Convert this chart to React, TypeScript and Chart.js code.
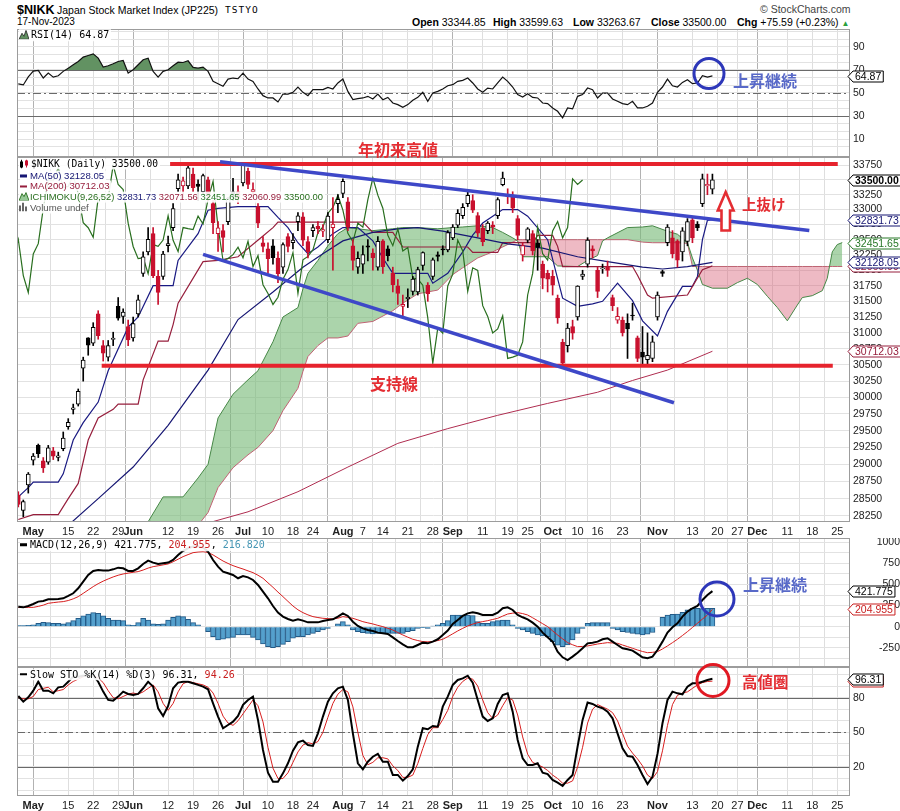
import React, { useEffect, useRef } from 'react';
import { Chart, registerables } from 'chart.js';

Chart.register(...registerables);

const SANS = '"Liberation Sans", Arial, Helvetica, sans-serif';
const MONO = '"DejaVu Sans Mono", "Liberation Mono", monospace';
const CJK = '"Noto Sans CJK JP", "Noto Sans CJK SC", sans-serif';

// x = trading-day index, 0 = 1-May-2023. First candle (26-Apr) is index -3.
const FIRST_INDEX = -3;
const X_MIN = -3.26;
const X_MAX = 163.55;
const ICHI_LAG = 26;
const PREV_CLOSE = 28620;

const tickIdx = [0, 7, 12, 17, 20, 27, 32, 37, 42, 47, 52, 56, 62, 66, 70, 75, 80, 84, 90, 95, 99, 104, 109, 113, 118, 125, 132, 137, 141, 145, 151, 156, 161];
const tickLabels = ['May', '15', '22', '29', 'Jun', '12', '19', '26', 'Jul', '10', '18', '24', 'Aug', '7', '14', '21', '28', 'Sep', '11', '19', '25', 'Oct', '10', '16', '23', 'Nov', '13', '20', '27', 'Dec', '11', '18', '25'];
const monthNames = ['May', 'Jun', 'Jul', 'Aug', 'Sep', 'Oct', 'Nov', 'Dec'];

const priceTicks = [28250, 28500, 28750, 29000, 29250, 29500, 29750, 30000, 30250, 30500, 30750, 31000, 31250, 31500, 31750, 32000, 32250, 32500, 32750, 33000, 33250, 33500, 33750];
const rsiGrid = [3.33, 10, 16.67, 23.33, 30, 36.67, 43.33, 50, 56.67, 63.33, 70, 76.67, 83.33, 90, 96.67, 103.33];
const rsiLabels = [10, 30, 50, 70, 90];
const macdGrid = [-375, -250, -125, 0, 125, 250, 375, 500, 625, 750, 875, 1000];
const macdLabels = [-250, 0, 250, 500, 750, 1000];
const stoGrid = [0, 10, 20, 30, 40, 50, 60, 70, 80, 90, 100];
const stoLabels = [20, 50, 80];

// ---- daily candles, 26-Apr-2023 .. 17-Nov-2023 ----
const opens = [
  28550, 28330, 28700, 29060, 29280, 29050, 29030, 29200, 29100, 29230,
  29560, 29820, 29900, 30450, 30920, 30840, 31300, 30800, 30620, 30895,
  31420, 31260, 31100, 30920, 31300, 31950, 32300, 32600, 31900, 31900,
  32400, 32700, 33350, 33400, 33400, 33600, 33430, 33300, 33500, 33100,
  32600, 32650, 32800, 33300, 33300, 33450, 33650, 33300, 33050, 32450,
  32350, 32400, 32200, 32050, 32550, 32450, 32800, 32880, 32470, 32650,
  32720, 32640, 32500, 32700, 33100, 33270, 33130, 32400, 32050, 32100,
  32400, 32280, 32050, 32480, 32350, 31950, 31750, 31420, 31540, 31660,
  31650, 32080, 31760, 31900, 32250, 32350, 32330, 32530, 32740, 32900,
  33100, 33150, 32900, 32690, 32650, 32740, 32900, 33420, 33220, 33240,
  32850, 32250, 32490, 32600, 32450, 32100, 31950, 31900, 31550, 30850,
  30800, 31100, 31250, 31900, 32100, 32350, 32000, 32020, 32050, 31560,
  31200, 31200, 31150, 31280, 30920, 30700, 30580, 30600, 31250, 31980,
  32450, 32530, 32480, 32300, 32470, 32830, 32760, 33100, 33400, 33344.85,
];
const highs = [
  28600, 28480, 28880, 29160, 29300, 29100, 29280, 29250, 29180, 29480,
  29680, 29900, 30130, 30620, 30924, 31160, 31350, 30880, 30880, 31010,
  31560, 31380, 31200, 31250, 31600, 32300, 32700, 32700, 32000, 32310,
  32560, 33100, 33600, 33550, 33772, 33700, 33500, 33600, 33550, 33150,
  32800, 32750, 33200, 33527, 33400, 33772, 33700, 33450, 33100, 32550,
  32450, 32500, 32300, 32450, 32600, 32600, 32950, 32950, 32550, 32750,
  32800, 32750, 32950, 33200, 33250, 33520, 33200, 32500, 32300, 32400,
  32500, 32350, 32550, 32500, 32400, 32050, 31850, 31600, 31700, 31900,
  32050, 32300, 31800, 32200, 32300, 32400, 32650, 32750, 33000, 33100,
  33300, 33250, 32950, 32750, 32800, 32800, 33200, 33634, 33350, 33300,
  32900, 32450, 32700, 32650, 32500, 32150, 32000, 32000, 31600, 30900,
  31150, 31200, 31750, 32000, 32533, 32400, 32050, 32100, 32150, 31600,
  31400, 31250, 31300, 31470, 30950, 31100, 31000, 30950, 31650, 32000,
  32750, 32650, 32500, 32700, 32850, 32880, 32800, 33600, 33600, 33599.63,
];
const lows = [
  28380, 28240, 28580, 28990, 29100, 28880, 29000, 29070, 29050, 29200,
  29520, 29750, 29870, 30250, 30650, 30800, 30900, 30560, 30560, 30800,
  31200, 31150, 30800, 30870, 31250, 31900, 32250, 31880, 31450, 31850,
  32300, 32650, 33300, 33200, 33350, 33300, 33150, 33250, 33150, 32600,
  32306, 32300, 32750, 33150, 33100, 33400, 33350, 33200, 32700, 32300,
  31950, 32100, 31800, 31950, 32300, 32350, 32650, 32400, 32200, 32550,
  32600, 32550, 32450, 32000, 32950, 33200, 32650, 32000, 31950, 31950,
  32150, 32000, 32000, 31950, 32150, 31650, 31450, 31270, 31400, 31600,
  31600, 32000, 31500, 31850, 32150, 32250, 32300, 32500, 32700, 32850,
  33050, 32950, 32550, 32400, 32600, 32600, 32850, 33400, 33100, 32950,
  32500, 32150, 32450, 32250, 32000, 31700, 31650, 31600, 31150, 30487,
  30700, 30900, 31200, 31850, 32050, 32200, 31560, 31950, 31900, 31350,
  31150, 30950, 30600, 31200, 30550, 30500, 30500, 30550, 31200, 31900,
  32400, 32200, 32050, 32150, 32400, 32450, 32650, 33050, 33250, 33263.67,
];
const closes = [
  28416, 28457, 28856, 29123, 29157, 28949, 29242, 29122, 29126, 29388,
  29626, 29842, 30093, 30573, 30808, 31086, 30957, 30682, 30801, 30916,
  31233, 31328, 30887, 31148, 31524, 32217, 32506, 31913, 31641, 32265,
  32434, 33018, 33502, 33485, 33706, 33370, 33388, 33575, 33264, 32781,
  32698, 32538, 33193, 33234, 33189, 33753, 33422, 33338, 32773, 32388,
  32189, 32203, 31943, 32419, 32391, 32493, 32896, 32490, 32304, 32700,
  32682, 32668, 32891, 32759, 33172, 33476, 32707, 32159, 32193, 32254,
  32377, 32204, 32473, 32059, 32238, 31766, 31626, 31450, 31565, 31856,
  32010, 32287, 31624, 32169, 32226, 32333, 32619, 32710, 32939, 33036,
  33241, 32991, 32606, 32467, 32776, 32706, 33168, 33533, 33242, 33023,
  32571, 32402, 32678, 32315, 32371, 31872, 31857, 31759, 31237, 30526,
  31075, 30994, 31746, 31936, 32494, 32315, 31659, 32040, 31998, 31430,
  31259, 30999, 31062, 31269, 30601, 30620, 30650, 30858, 31601, 31949,
  32708, 32271, 32166, 32646, 32800, 32530, 32700, 33519, 33424, 33500.0,
];

const tenkanIdx = [-3, -1, 0, 5, 6, 8, 10, 13, 15, 16, 19, 21, 24, 28, 29, 33, 35, 37, 41, 47, 49, 51, 53, 55, 57, 60, 62, 65, 68, 70, 72, 79, 80, 83, 86, 88, 90, 94, 97, 99, 103, 106, 109, 112, 114, 117, 120, 122, 125, 127, 130, 132, 133, 134, 135, 136];
const tenkanVal = [28525, 28660, 28740, 28740, 28860, 29360, 29620, 29930, 30410, 30580, 31090, 31250, 31750, 31750, 32160, 32600, 32990, 33020, 33050, 33050, 32870, 32700, 32450, 32270, 32380, 32600, 32700, 32700, 32480, 32200, 31950, 31950, 31790, 31950, 32300, 32575, 32775, 33000, 33000, 32890, 32500, 31550, 31420, 31460, 31500, 31790, 31510, 31190, 30950, 31340, 31740, 31740, 31900, 32500, 32820, 32831.73];
const kijunIdx = [-3, 0, 5, 7, 9, 11, 13, 16, 17, 21, 22, 25, 27, 28, 29, 34, 37, 41, 46, 48, 49, 66, 68, 72, 74, 87, 88, 93, 94, 100, 101, 104, 105, 106, 120, 121, 123, 124, 131, 132, 134, 136];
const kijunVal = [28200, 28270, 28270, 28500, 28721, 29360, 29690, 29820, 29900, 29900, 30270, 30870, 30870, 31130, 31470, 32140, 32160, 32220, 32560, 32700, 32790, 32790, 32620, 32620, 32380, 32380, 32290, 32290, 32450, 32450, 32570, 32570, 32390, 32060, 32060, 31920, 31600, 31550, 31600, 31740, 32010, 32071.56];
const ma50Idx = [5, 7, 13, 20, 27, 35, 41, 48, 54, 58, 62, 68, 73, 77, 82, 89, 95, 102, 109, 115, 122, 126, 131, 136];
const ma50Val = [28050, 28117, 28500, 28960, 29580, 30420, 31210, 31650, 32050, 32270, 32480, 32620, 32680, 32700, 32640, 32530, 32430, 32360, 32220, 32140, 32050, 32020, 32060, 32128.05];
const ma200Idx = [30, 34, 43, 53, 63, 73, 83, 93, 103, 113, 120, 127, 136];
const ma200Val = [28060, 28130, 28310, 28600, 28960, 29310, 29530, 29730, 29910, 30080, 30260, 30420, 30712.03];
const cloudIdx = [22, 26, 30, 33, 35, 37, 40, 43, 45, 48, 50, 53, 54, 55, 57, 59, 61, 63, 65, 68, 72, 74, 77, 81, 84, 86, 89, 92, 94, 96, 97, 98, 103, 105, 109, 111, 113, 114, 115, 119, 122, 124, 127, 129, 131, 132, 133, 134, 136, 139, 141, 143, 145, 147, 149, 151, 153, 154, 156, 158, 159, 160, 161, 162];
const spanA = [28050, 28525, 28525, 28800, 29000, 29690, 30050, 30270, 30410, 30860, 31250, 31400, 31700, 31950, 32160, 32400, 32600, 32700, 32680, 32650, 32680, 32700, 32700, 32680, 32700, 32710, 32730, 32700, 32620, 32530, 32480, 32220, 32220, 32070, 32060, 32160, 32240, 32480, 32530, 32700, 32710, 32730, 32640, 32590, 32450, 32200, 32000, 31770, 31710, 31710, 31800, 31870, 31770, 31580, 31400, 31190, 31440, 31560, 31590, 31670, 31870, 32300, 32420, 32451.65];
const spanB = [27300, 27500, 27800, 28117, 28300, 28660, 28950, 29140, 29250, 29500, 29800, 30140, 30400, 30630, 30800, 30920, 30920, 30950, 31150, 31180, 31350, 31470, 31620, 31680, 31930, 32040, 32200, 32300, 32380, 32460, 32500, 32500, 32500, 32500, 32500, 32500, 32500, 32500, 32500, 32500, 32460, 32450, 32450, 32450, 32440, 32061, 32061, 32061, 32061, 32061, 32061, 32061, 32061, 32061, 32061, 32061, 32061, 32061, 32061, 32061, 32061, 32061, 32061, 32060.99];

// hand-drawn annotation lines (index, price)
const resistanceIdx = [27.4, 161.1];
const resistanceVal = [33772, 33772];
const supportIdx = [13.7, 160.1];
const supportVal = [30487, 30487];
const upperTrendIdx = [37.4, 155.4];
const upperTrendVal = [33810, 32650];
const lowerTrendIdx = [34.0, 128.3];
const lowerTrendVal = [32259, 29920];

// ---- indicators, one value per candle ----
const rsi = [
  58, 57, 64, 69, 69.6, 63, 67.3, 63.8, 65, 68.8,
  71.6, 74.5, 77.4, 81.2, 82.6, 84, 80.3, 72.5, 73.7, 75.4,
  77.4, 78.3, 67.3, 70.2, 74.5, 78.9, 80.3, 68.8, 63.8, 68.8,
  70.2, 73.7, 76.8, 76.5, 78, 72.2, 71.6, 72.5, 68.8, 60.1,
  58.1, 55.8, 62.1, 63, 62.4, 67.3, 62.1, 60.1, 53.5, 47.7,
  45.7, 45.7, 42.2, 49.1, 49.1, 50.6, 55.2, 50.6, 47.7, 52.9,
  52.9, 52.9, 54.9, 53.5, 58.7, 62.1, 51.4, 44.2, 45.1, 45.7,
  47.1, 44.8, 49.1, 44.2, 46.2, 41.3, 39.9, 37.6, 39.9, 43.7,
  46.2, 50.6, 42.8, 50, 51.4, 53.5, 56.3, 57.2, 60.1, 61,
  63, 58.7, 53.5, 50.6, 54.3, 53.5, 58.7, 63.8, 60.1, 55.2,
  48.6, 46.5, 49.4, 46.2, 45.7, 41.3, 40.8, 37, 34.1, 28.4,
  37, 36.2, 47.1, 48.6, 54.3, 52.9, 45.7, 50, 50, 44.8,
  42.8, 40.8, 39.9, 42.8, 37, 37, 38.5, 41.3, 50.6, 55.2,
  62.1, 56.3, 55.2, 59.2, 61.5, 58.1, 58.7, 65, 63.8, 64.87,
];
const macd = [
  237, 229, 245, 269, 297, 305, 324, 324, 328, 336,
  364, 396, 455, 534, 613, 661, 672, 665, 665, 680,
  700, 692, 661, 661, 692, 744, 783, 760, 744, 752,
  760, 791, 850, 900, 930, 950, 955, 940, 890, 791,
  712, 653, 633, 613, 574, 601, 585, 554, 494, 415,
  336, 245, 166, 119, 91, 71, 87, 71, 51, 51,
  51, 67, 79, 87, 119, 158, 127, 59, 8, -20,
  -40, -51, -71, -79, -87, -127, -170, -210, -245, -245,
  -218, -190, -198, -178, -150, -99, -47, 32, 79, 127,
  158, 170, 158, 138, 138, 138, 166, 218, 229, 198,
  138, 111, 87, 47, 0, -71, -127, -178, -297, -364,
  -396, -356, -309, -257, -198, -190, -178, -150, -138, -178,
  -218, -257, -269, -285, -324, -364, -376, -356, -277, -178,
  -71, -8, 40, 119, 178, 218, 245, 316, 376, 421.775,
];
const macdSignal = [
  229, 229, 229, 229, 240, 255, 277, 285, 292, 297,
  310, 330, 356, 395, 435, 475, 510, 540, 566, 590,
  610, 625, 635, 645, 653, 672, 695, 712, 722, 733,
  744, 770, 800, 831, 855, 878, 886, 890, 880, 851,
  815, 779, 750, 724, 703, 684, 662, 641, 610, 574,
  520, 467, 410, 356, 300, 245, 200, 166, 140, 119,
  108, 99, 95, 91, 100, 119, 110, 99, 80, 59,
  45, 32, 15, 0, -20, -40, -70, -99, -125, -150,
  -165, -178, -180, -178, -165, -150, -119, -85, -51, -20,
  8, 30, 47, 60, 71, 85, 99, 125, 150, 160,
  166, 155, 138, 105, 71, 35, 0, -50, -99, -145,
  -190, -215, -237, -235, -229, -218, -206, -198, -190, -194,
  -198, -218, -237, -257, -277, -295, -309, -305, -297, -265,
  -229, -190, -150, -105, -59, -10, 40, 90, 138, 204.955,
];
const macdHist = [
  12, 12, 15, 20, 40, 51, 47, 40, 40, 32,
  47, 71, 99, 127, 150, 166, 158, 127, 99, 79,
  79, 71, 20, 16, 47, 99, 79, 32, 28, 32,
  79, 111, 127, 119, 87, 47, 20, 0, -59, -119,
  -158, -150, -138, -127, -99, -99, -99, -127, -158, -206,
  -237, -249, -237, -210, -178, -138, -119, -119, -99, -79,
  -59, -40, -20, 0, 32, 59, 20, -40, -59, -71,
  -79, -87, -79, -79, -79, -79, -79, -79, -59, -47,
  -20, -12, -20, 8, 20, 40, 71, 138, 138, 138,
  138, 130, 59, 40, 40, 59, 71, 79, 79, 20,
  -20, -40, -59, -79, -99, -110, -119, -178, -220, -237,
  -218, -158, -79, -20, 40, 47, 47, 47, 47, -20,
  -40, -60, -70, -80, -90, -99, -90, -70, 0, 110,
  138, 145, 150, 170, 200, 218, 218, 215, 218, 216.82,
];
const stoK = [
  81.4, 76.5, 80.3, 86, 93.8, 86, 86, 83.7, 88.9, 89.5,
  93.8, 98.2, 98, 99, 99, 99, 93.8, 85.2, 78, 77.4,
  80.9, 85.2, 83.2, 82.3, 83.2, 88.1, 93.8, 89.5, 70.8, 64.1,
  72.8, 88.1, 93, 93.8, 93.8, 92.4, 91, 89.5, 87.2, 75.1,
  63.6, 53.5, 56.3, 59.2, 64.1, 73.7, 78, 80.9, 60.7, 34.7,
  15.1, 7.3, 7.3, 14.5, 23.2, 34.1, 41.3, 42.8, 39, 38.2,
  49.1, 63.6, 76.5, 83.7, 88.1, 89.5, 78, 49.1, 23.2, 18,
  24.6, 28.9, 31.3, 24.6, 24.6, 13.1, 13.1, 8.2, 12.2, 18,
  37.6, 53.5, 52.6, 55.5, 54.9, 72.2, 80.9, 91, 95.3, 96.7,
  99, 93, 78, 63.6, 59.8, 62.1, 74.5, 82.3, 83.7, 67.9,
  43.4, 27.5, 21.7, 21.7, 23.2, 15.1, 13.9, 8.8, 6.4, 3.6,
  8.8, 13.1, 37.6, 60.7, 75.7, 74.5, 72.2, 70.8, 67.9, 62.1,
  49.1, 36.2, 29.5, 28.9, 21.7, 13.1, 5.3, 11.6, 31.3, 57.8,
  78, 85.2, 83.7, 82.9, 89.5, 92.4, 92.4, 93.8, 95.3, 96.31,
];
const stoD = [
  80, 79, 79, 81, 87, 88, 89, 85, 86, 87,
  91, 94, 96, 98, 99, 99, 97, 93, 86, 80,
  79, 81, 83, 84, 83, 85, 88, 91, 85, 75,
  69, 75, 85, 92, 94, 93, 92, 91, 89, 84,
  75, 64, 58, 56, 60, 66, 72, 78, 73, 59,
  37, 19, 10, 10, 15, 24, 33, 39, 41, 40,
  42, 50, 63, 75, 83, 87, 85, 72, 50, 30,
  22, 24, 28, 28, 27, 21, 17, 11, 11, 13,
  23, 36, 48, 54, 54, 61, 69, 81, 89, 94,
  97, 96, 90, 78, 67, 62, 65, 73, 80, 78,
  65, 46, 31, 24, 22, 20, 17, 13, 10, 6,
  6, 8, 20, 37, 58, 70, 74, 72, 70, 67,
  60, 49, 38, 32, 27, 21, 13, 10, 16, 34,
  56, 74, 82, 84, 85, 88, 91, 93, 94, 94.26,
];

// ---------- colours ----------
const RED = 'rgb(200,16,46)';
const NAVY = 'rgb(22,22,115)';
const MAROON = 'rgb(150,30,60)';
const GREEN_LINE = 'rgb(40,110,30)';
const ANN_RED = 'rgb(228,45,50)';
const ANN_BLUE = 'rgb(88,105,200)';
const CIRCLE_BLUE = 'rgb(45,55,185)';

const monthIdx = new Set(tickIdx.filter((_, i) => monthNames.includes(tickLabels[i])));

function pts(xs: number[], ys: number[]) {
  return xs.map((x, i) => ({ x, y: ys[i] }));
}
function series(ys: number[]) {
  return ys.map((y, i) => ({ x: i + FIRST_INDEX, y }));
}

function xScale(showLabels: boolean, h: number) {
  return {
    type: 'linear',
    min: X_MIN,
    max: X_MAX,
    offset: false,
    afterBuildTicks: (s: any) => { s.ticks = tickIdx.map((v) => ({ value: v })); },
    afterFit: (s: any) => { s.height = h; s.paddingLeft = 0; s.paddingRight = 0; },
    ticks: {
      display: showLabels,
      autoSkip: false,
      maxRotation: 0,
      minRotation: 0,
      padding: 3,
      color: '#222',
      callback: (_v: any, i: number) => tickLabels[i],
      font: (c: any) => ({ family: SANS, size: 11, weight: c.tick && monthIdx.has(c.tick.value) ? 'bold' : 'normal' }),
    },
    grid: {
      drawTicks: false,
      lineWidth: 1,
      color: (c: any) => (c.tick && monthIdx.has(c.tick.value) ? '#b2b2b2' : '#dedede'),
    },
    border: { display: false },
  };
}

function yScale(base: any, gridVals: number[], labelVals: number[] | null, far = false) {
  return {
    position: 'right',
    ...base,
    afterBuildTicks: (s: any) => { s.ticks = gridVals.map((v) => ({ value: v })); },
    afterFit: (s: any) => { s.width = 50; s.paddingTop = 0; s.paddingBottom = 0; },
    grid: { drawTicks: false, color: '#e2e2e2', lineWidth: 1 },
    border: { display: false },
    ticks: {
      autoSkip: false,
      padding: 3,
      color: '#222',
      crossAlign: far ? 'far' : 'near',
      font: { family: SANS, size: 10.5 },
      callback: (v: any) => (labelVals === null || labelVals.includes(v) ? String(v) : ''),
    },
  };
}

const framePlugin = {
  id: 'frame',
  afterDraw(chart: any) {
    const { ctx, chartArea: a } = chart;
    ctx.save();
    ctx.strokeStyle = '#9c9c9c';
    ctx.lineWidth = 1;
    ctx.strokeRect(a.left + 0.5, a.top + 0.5, a.right - a.left - 1, a.bottom - a.top - 1);
    ctx.restore();
  },
};

function refLines(lines: { v: number; dash?: number[] }[]) {
  return {
    id: 'refLines',
    beforeDatasetsDraw(chart: any) {
      const { ctx, chartArea: a } = chart;
      const y = chart.scales.y;
      ctx.save();
      ctx.strokeStyle = '#6a6a6a';
      ctx.lineWidth = 1;
      for (const l of lines) {
        const py = Math.round(y.getPixelForValue(l.v)) + 0.5;
        ctx.setLineDash(l.dash || []);
        ctx.beginPath();
        ctx.moveTo(a.left, py);
        ctx.lineTo(a.right, py);
        ctx.stroke();
      }
      ctx.restore();
    },
  };
}

function tagPlugin(items: { v: number; text: string; color: string; bold?: boolean }[]) {
  return {
    id: 'tags',
    afterDraw(chart: any) {
      const { ctx, chartArea: a } = chart;
      const y = chart.scales.y;
      ctx.save();
      for (const t of items) {
        const py = Math.round(y.getPixelForValue(t.v)) + 0.5;
        ctx.font = `${t.bold ? 'bold ' : ''}10.5px ${SANS}`;
        const w = ctx.measureText(t.text).width;
        const tip = a.right - 2;
        const bx = a.right + 3;
        const h = 11;
        ctx.beginPath();
        ctx.moveTo(tip, py);
        ctx.lineTo(bx, py - h / 2);
        ctx.lineTo(bx + w + 4, py - h / 2);
        ctx.lineTo(bx + w + 4, py + h / 2);
        ctx.lineTo(bx, py + h / 2);
        ctx.closePath();
        ctx.fillStyle = '#fff';
        ctx.fill();
        ctx.strokeStyle = t.color;
        ctx.lineWidth = 1;
        ctx.stroke();
        ctx.fillStyle = t.color;
        ctx.textBaseline = 'middle';
        ctx.textAlign = 'left';
        ctx.fillText(t.text, bx + 2, py + 0.5);
      }
      ctx.restore();
    },
  };
}

const baseOpts = {
  responsive: false,
  animation: false,
  devicePixelRatio: 1,
  events: [],
  layout: { padding: { left: 17, right: 0, top: 0, bottom: 0 } },
};

function lineDs(data: any[], color: string, width: number, order: number, extra: any = {}) {
  return { type: 'line', data, borderColor: color, borderWidth: width, pointRadius: 0, fill: false, tension: 0, order, ...extra };
}

const Lbl = ({ x, y, children, style }: any) => (
  <div style={{ position: 'absolute', left: x, top: y, transform: 'translateY(-50%)', whiteSpace: 'nowrap', lineHeight: 1.15, ...style }}>{children}</div>
);
const Dash = ({ color }: any) => (
  <span style={{ display: 'inline-block', width: 7, height: 2.5, background: color, verticalAlign: 'middle', marginRight: 3, marginTop: -1 }} />
);

export default function App() {
  const rsiRef = useRef<HTMLCanvasElement>(null);
  const mainRef = useRef<HTMLCanvasElement>(null);
  const macdRef = useRef<HTMLCanvasElement>(null);
  const stoRef = useRef<HTMLCanvasElement>(null);

  useEffect(() => {
    const charts: any[] = [];

    // ---------- RSI ----------
    charts.push(new Chart(rsiRef.current as any, {
      type: 'line',
      data: {
        datasets: [
          lineDs(series(rsi), '#111', 1.2, 1, {
            fill: { target: { value: 70 }, above: 'rgb(98,146,98)', below: 'rgba(0,0,0,0)' },
          }),
        ],
      },
      options: {
        ...baseOpts,
        plugins: { legend: { display: false }, tooltip: { enabled: false } },
        scales: {
          x: xScale(false, 0),
          y: yScale({ type: 'linear', min: -5.6, max: 105.6 }, rsiGrid, rsiLabels),
        },
      } as any,
      plugins: [refLines([{ v: 70 }, { v: 30 }, { v: 50, dash: [8, 3, 2, 3] }]), framePlugin, tagPlugin([{ v: 64.87, text: '64.87', color: '#000' }])],
    } as any));

    // ---------- main price panel ----------
    const redCandle = closes.map((c, i) => c < (i === 0 ? PREV_CLOSE : closes[i - 1]));
    const edge = redCandle.map((r) => (r ? RED : '#000'));
    const fillCol = closes.map((c, i) => (c >= opens[i] ? '#fff' : edge[i]));
    const wickData = closes.map((_, i) => ({ x: i + FIRST_INDEX, y: [lows[i], highs[i]] }));
    const bodyData = closes.map((c, i) => ({ x: i + FIRST_INDEX, y: [opens[i], c] }));
    const chikou = closes.map((c, i) => ({ x: i + FIRST_INDEX - ICHI_LAG, y: c }));

    charts.push(new Chart(mainRef.current as any, {
      type: 'line',
      data: {
        datasets: [
          lineDs(pts(cloudIdx, spanA), 'rgb(70,135,70)', 1, 8, {
            fill: { target: '+1', above: 'rgba(120,185,120,0.62)', below: 'rgba(215,90,115,0.42)' },
          }),
          lineDs(pts(cloudIdx, spanB), 'rgb(190,100,115)', 1, 8),
          lineDs(chikou, GREEN_LINE, 1.2, 5),
          lineDs(pts(ma200Idx, ma200Val), 'rgb(175,45,80)', 1, 5),
          lineDs(pts(ma50Idx, ma50Val), NAVY, 1.2, 5),
          lineDs(pts(kijunIdx, kijunVal), MAROON, 1.2, 5),
          lineDs(pts(tenkanIdx, tenkanVal), 'rgb(25,25,130)', 1.2, 5),
          {
            type: 'bar', data: wickData, grouped: false, barThickness: 1,
            backgroundColor: edge, borderWidth: 0, order: 4,
          },
          {
            type: 'bar', data: bodyData, grouped: false, barThickness: 4,
            backgroundColor: fillCol, borderColor: edge, borderWidth: 1, borderSkipped: false, order: 3,
          },
          lineDs(pts(resistanceIdx, resistanceVal), 'rgb(230,35,45)', 4, 2),
          lineDs(pts(supportIdx, supportVal), 'rgb(230,35,45)', 4, 2),
          lineDs(pts(upperTrendIdx, upperTrendVal), 'rgb(62,72,200)', 3.5, 1),
          lineDs(pts(lowerTrendIdx, lowerTrendVal), 'rgb(62,72,200)', 3.5, 1),
        ],
      },
      options: {
        ...baseOpts,
        plugins: { legend: { display: false }, tooltip: { enabled: false }, filler: { drawTime: 'beforeDatasetsDraw' } },
        scales: {
          x: xScale(true, 16),
          y: yScale({ type: 'logarithmic', min: 28164, max: 33892 }, priceTicks, null),
        },
      } as any,
      plugins: [framePlugin, tagPlugin([
        { v: 30712.03, text: '30712.03', color: MAROON },
        { v: 32060.99, text: '32060.99', color: MAROON },
        { v: 32128.05, text: '32128.05', color: NAVY },
        { v: 32451.65, text: '32451.65', color: 'rgb(40,120,40)' },
        { v: 32831.73, text: '32831.73', color: NAVY },
        { v: 33500, text: '33500.00', color: '#000', bold: true },
      ])],
    } as any));

    // ---------- MACD ----------
    charts.push(new Chart(macdRef.current as any, {
      type: 'line',
      data: {
        datasets: [
          {
            type: 'bar', data: series(macdHist), grouped: false, barThickness: 5,
            backgroundColor: 'rgb(84,160,205)', borderColor: 'rgb(35,90,135)', borderWidth: 1, order: 3,
          },
          lineDs(series(macdSignal), 'rgb(215,30,30)', 1, 2),
          lineDs(series(macd), '#000', 2, 1),
        ],
      },
      options: {
        ...baseOpts,
        plugins: { legend: { display: false }, tooltip: { enabled: false } },
        scales: {
          x: xScale(false, 0),
          y: yScale({ type: 'linear', min: -479, max: 1052 }, macdGrid, macdLabels, true),
        },
      } as any,
      plugins: [framePlugin, tagPlugin([
        { v: 204.955, text: '204.955', color: 'rgb(200,30,30)' },
        { v: 421.775, text: '421.775', color: '#000' },
      ])],
    } as any));

    // ---------- Slow Stochastic ----------
    charts.push(new Chart(stoRef.current as any, {
      type: 'line',
      data: {
        datasets: [
          lineDs(series(stoD), 'rgb(215,30,30)', 1, 2),
          lineDs(series(stoK), '#000', 2, 1),
        ],
      },
      options: {
        ...baseOpts,
        plugins: { legend: { display: false }, tooltip: { enabled: false } },
        scales: {
          x: xScale(true, 15),
          y: yScale({ type: 'linear', min: -5.1, max: 106.5 }, stoGrid, stoLabels),
        },
      } as any,
      plugins: [refLines([{ v: 80 }, { v: 20 }, { v: 50, dash: [8, 3, 2, 3] }]), framePlugin, tagPlugin([
        { v: 94.26, text: '94.26', color: 'rgb(200,30,30)' },
        { v: 96.31, text: '96.31', color: '#000' },
      ])],
    } as any));

    return () => charts.forEach((c) => c.destroy());
  }, []);

  const legBg = 'rgba(255,255,255,0.9)';
  const cjk = { fontFamily: CJK, fontWeight: 700, fontSize: 16 };

  return (
    <div style={{ position: 'absolute', left: 0, top: 0, width: 900, height: 811, background: '#fff', overflow: 'hidden', fontFamily: SANS, color: '#000' }}>
      <canvas ref={rsiRef} width={900} height={128} style={{ position: 'absolute', left: 0, top: 29 }} />
      <canvas ref={mainRef} width={900} height={381} style={{ position: 'absolute', left: 0, top: 157 }} />
      <canvas ref={macdRef} width={900} height={129} style={{ position: 'absolute', left: 0, top: 538 }} />
      <canvas ref={stoRef} width={900} height={144} style={{ position: 'absolute', left: 0, top: 667 }} />

      {/* header */}
      <Lbl x={17} y={10} style={{ fontWeight: 700, fontSize: 12.5 }}>$NIKK</Lbl>
      <Lbl x={57} y={10} style={{ fontSize: 10.5 }}>Japan Stock Market Index (JP225)</Lbl>
      <Lbl x={225} y={10} style={{ fontSize: 9.5, fontFamily: MONO, letterSpacing: 1 }}>TSTYO</Lbl>
      <Lbl x={17} y={22} style={{ fontSize: 10 }}>17-Nov-2023</Lbl>
      <Lbl x={412} y={22} style={{ fontSize: 10.5 }}><b>Open</b> 33344.85</Lbl>
      <Lbl x={493} y={22} style={{ fontSize: 10.5 }}><b>High</b> 33599.63</Lbl>
      <Lbl x={573} y={22} style={{ fontSize: 10.5 }}><b>Low</b> 33263.67</Lbl>
      <Lbl x={651} y={22} style={{ fontSize: 10.5 }}><b>Close</b> 33500.00</Lbl>
      <Lbl x={737} y={22} style={{ fontSize: 10.5 }}><b>Chg</b> +75.59 (+0.23%) <span style={{ color: 'rgb(40,160,60)', fontSize: 8 }}>▲</span></Lbl>
      <Lbl x={760} y={9} style={{ fontSize: 10.5, color: '#444' }}>© StockCharts.com</Lbl>

      {/* RSI legend */}
      <Lbl x={19} y={35} style={{ fontFamily: MONO, fontSize: 10, background: legBg, paddingRight: 2 }}>
        <svg width={10} height={9} style={{ verticalAlign: 'middle', marginRight: 2, marginTop: -2 }}><polygon points="0,9 3,3 5,6 7,0 10,9" fill="rgb(98,146,98)" stroke="#222" strokeWidth={0.8} /></svg>
        RSI(14) 64.87
      </Lbl>

      {/* main legend */}
      <Lbl x={19} y={164} style={{ fontFamily: MONO, fontSize: 9.6, background: legBg, paddingRight: 2 }}>
        <svg width={10} height={9} style={{ verticalAlign: 'middle', marginRight: 2, marginTop: -2 }}><rect x={1} y={2} width={3} height={6} fill="#000" /><line x1={2.5} y1={0} x2={2.5} y2={9} stroke="#000" /><rect x={6} y={1} width={3} height={5} fill={RED} /><line x1={7.5} y1={0} x2={7.5} y2={8} stroke={RED} /></svg>
        $NIKK (Daily) 33500.00
      </Lbl>
      <Lbl x={20} y={175.5} style={{ fontSize: 9.6, color: NAVY, background: legBg, paddingRight: 2 }}><Dash color={NAVY} />MA(50) 32128.05</Lbl>
      <Lbl x={20} y={186} style={{ fontSize: 9.6, color: MAROON, background: legBg, paddingRight: 2 }}><Dash color={MAROON} />MA(200) 30712.03</Lbl>
      <Lbl x={19} y={196.7} style={{ fontSize: 9.4, background: legBg, paddingRight: 2 }}>
        <svg width={10} height={9} style={{ verticalAlign: 'middle', marginRight: 1, marginTop: -2 }}><polygon points="0,9 3,2 5,5 7,1 10,9" fill="rgb(150,200,150)" stroke="rgb(40,110,30)" strokeWidth={0.9} /></svg>
        <span style={{ color: 'rgb(40,110,30)' }}>ICHIMOKU(9,26,52)</span>{' '}
        <span style={{ color: NAVY }}>32831.73</span>{' '}
        <span style={{ color: MAROON }}>32071.56</span>{' '}
        <span style={{ color: 'rgb(40,120,40)' }}>32451.65</span>{' '}
        <span style={{ color: MAROON }}>32060.99</span>{' '}
        <span style={{ color: 'rgb(40,110,30)' }}>33500.00</span>
      </Lbl>
      <Lbl x={19} y={207.5} style={{ fontSize: 9.6, color: '#555', background: legBg, paddingRight: 2 }}>
        <svg width={10} height={9} style={{ verticalAlign: 'middle', marginRight: 1, marginTop: -2 }}><rect x={0} y={3} width={2} height={6} fill="#666" /><rect x={3} y={0} width={2} height={9} fill="#666" /><rect x={6} y={4} width={2} height={5} fill="#666" /></svg>
        Volume undef
      </Lbl>

      {/* MACD legend */}
      <Lbl x={20} y={545} style={{ fontFamily: MONO, fontSize: 10, background: legBg, paddingRight: 2 }}>
        <Dash color="#000" />MACD(12,26,9) 421.775, <span style={{ color: 'rgb(200,30,30)' }}>204.955</span>, <span style={{ color: 'rgb(70,150,180)' }}>216.820</span>
      </Lbl>

      {/* STO legend */}
      <Lbl x={20} y={674.5} style={{ fontFamily: MONO, fontSize: 10, background: legBg, paddingRight: 2 }}>
        <Dash color="#000" />Slow STO %K(14) %D(3) 96.31, <span style={{ color: 'rgb(200,30,30)' }}>94.26</span>
      </Lbl>

      {/* annotations */}
      <svg width={900} height={811} style={{ position: 'absolute', left: 0, top: 0, pointerEvents: 'none' }}>
        <circle cx={709} cy={73.5} r={15} fill="none" stroke={CIRCLE_BLUE} strokeWidth={3} />
        <circle cx={717} cy={599} r={17} fill="none" stroke={CIRCLE_BLUE} strokeWidth={3} />
        <circle cx={713} cy={680.5} r={16} fill="none" stroke="rgb(225,25,35)" strokeWidth={3} />
        <polygon points="725.7,192 717.8,210.5 721.5,210.5 721.5,230.5 730,230.5 730,210.5 733.6,210.5" fill="#fff" stroke={ANN_RED} strokeWidth={2.6} strokeLinejoin="miter" />
      </svg>
      <Lbl x={358} y={148.5} style={{ ...cjk, color: ANN_RED }}>年初来高値</Lbl>
      <Lbl x={733} y={80} style={{ ...cjk, color: ANN_BLUE }}>上昇継続</Lbl>
      <Lbl x={742} y={204} style={{ ...cjk, fontSize: 14.5, color: ANN_RED }}>上抜け</Lbl>
      <Lbl x={370} y={382.5} style={{ ...cjk, color: ANN_RED }}>支持線</Lbl>
      <Lbl x={743} y={584} style={{ ...cjk, color: ANN_BLUE }}>上昇継続</Lbl>
      <Lbl x={742} y={681.5} style={{ ...cjk, fontSize: 15.5, color: ANN_RED }}>高値圏</Lbl>
    </div>
  );
}
